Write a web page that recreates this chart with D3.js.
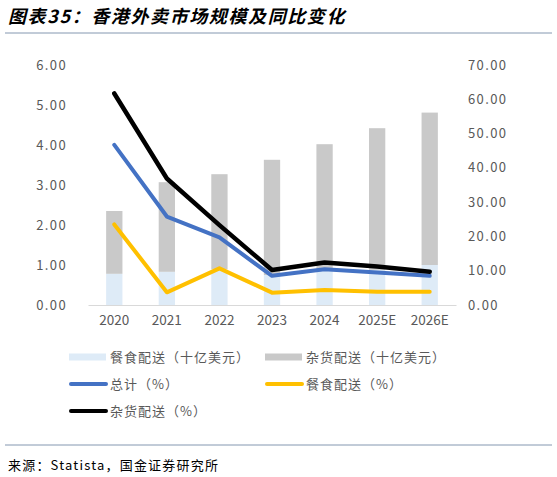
<!DOCTYPE html>
<html>
<head>
<meta charset="utf-8">
<script src="https://cdn.jsdelivr.net/npm/d3@7"></script>
<style>
  body { margin: 0; background: #fff; }
  text { font-family: "Noto Sans CJK SC", "DejaVu Sans", sans-serif; }
</style>
</head>
<body>
<script>
// 数据
var years = ["2020", "2021", "2022", "2023", "2024", "2025E", "2026E"];
var foodSize = [0.78, 0.83, 0.90, 0.75, 0.85, 0.88, 1.00];      // 餐食配送（十亿美元）
var grocerySize = [1.57, 2.24, 2.37, 2.88, 3.17, 3.54, 3.81];   // 杂货配送（十亿美元），堆叠在上
var totalYoy = [46.7, 25.8, 19.7, 8.5, 10.4, 9.5, 8.5];
var foodYoy = [23.5, 3.7, 10.7, 3.6, 4.4, 3.9, 3.9];
var groceryYoy = [61.7, 36.9, 23.3, 10.2, 12.4, 11.2, 9.7];
var leftTicks = [0, 1, 2, 3, 4, 5, 6];
var rightTicks = [0, 10, 20, 30, 40, 50, 60, 70];

var W = 557, H = 477;
var svg = d3.select("body").append("svg").attr("width", W).attr("height", H);

// 标题
svg.append("text").attr("x", 8).attr("y", 23)
  .attr("font-size", 18).attr("font-weight", "bold").attr("font-style", "italic")
  .attr("letter-spacing", 1.6).attr("fill", "#000").text("图表35：香港外卖市场规模及同比变化");
svg.append("line").attr("x1", 5).attr("x2", 552).attr("y1", 33).attr("y2", 33)
  .attr("stroke", "#8497b0").attr("stroke-width", 1);

var x = d3.scaleBand().domain(years).range([88, 456]).paddingInner(0.69).paddingOuter(0.345);
var yL = d3.scaleLinear().domain([0, 6]).range([305, 65]);
var yR = d3.scaleLinear().domain([0, 70]).range([305, 65]);

// 坐标轴文字
svg.selectAll(".lt").data(leftTicks).enter().append("text")
  .attr("x", 67).attr("y", function(d){ return yL(d); }).attr("dy", "0.35em")
  .attr("text-anchor", "end").attr("font-size", 13).attr("letter-spacing", 1.4).attr("fill", "#595959")
  .text(function(d){ return d3.format(".2f")(d); });
svg.selectAll(".rt").data(rightTicks).enter().append("text")
  .attr("x", 468).attr("y", function(d){ return yR(d); }).attr("dy", "0.35em")
  .attr("text-anchor", "start").attr("font-size", 13).attr("letter-spacing", 1.4).attr("fill", "#595959")
  .text(function(d){ return d3.format(".2f")(d); });

// 柱子
svg.selectAll(".food").data(years).enter().append("rect")
  .attr("x", function(d){ return x(d); }).attr("width", x.bandwidth())
  .attr("y", function(d, i){ return yL(foodSize[i]); })
  .attr("height", function(d, i){ return yL(0) - yL(foodSize[i]); })
  .attr("fill", "#deebf7");
svg.selectAll(".groc").data(years).enter().append("rect")
  .attr("x", function(d){ return x(d); }).attr("width", x.bandwidth())
  .attr("y", function(d, i){ return yL(foodSize[i] + grocerySize[i]); })
  .attr("height", function(d, i){ return yL(foodSize[i]) - yL(foodSize[i] + grocerySize[i]); })
  .attr("fill", "#c9c9c9");

// x 轴
var xAxis = svg.append("g").attr("transform", "translate(0,305)")
  .call(d3.axisBottom(x).tickSize(0).tickPadding(10));
xAxis.select(".domain").attr("stroke", "#d9d9d9").attr("stroke-width", 1.2);
xAxis.selectAll("text").attr("font-size", 13.5).attr("fill", "#595959")
  .attr("font-family", "\"Noto Sans CJK SC\", sans-serif");

// 折线
var lineGen = d3.line()
  .x(function(d, i){ return x(years[i]) + x.bandwidth() / 2; })
  .y(function(d){ return yR(d); });
var lines = [
  { data: foodYoy, color: "#ffc000", w: 4 },
  { data: totalYoy, color: "#4472c4", w: 4 },
  { data: groceryYoy, color: "#000000", w: 4.5 }
];
lines.forEach(function(l){
  svg.append("path").datum(l.data).attr("d", lineGen)
    .attr("fill", "none").attr("stroke", l.color).attr("stroke-width", l.w)
    .attr("stroke-linejoin", "round").attr("stroke-linecap", "round");
});

// 图例
var legend = [
  { label: "餐食配送（十亿美元）", type: "rect", color: "#deebf7", x: 69, y: 357 },
  { label: "杂货配送（十亿美元）", type: "rect", color: "#c9c9c9", x: 265, y: 357 },
  { label: "总计（%）", type: "line", color: "#4472c4", x: 69, y: 384 },
  { label: "餐食配送（%）", type: "line", color: "#ffc000", x: 265, y: 384 },
  { label: "杂货配送（%）", type: "line", color: "#000000", x: 69, y: 411 }
];
legend.forEach(function(g){
  if (g.type === "rect") {
    svg.append("rect").attr("x", g.x).attr("y", g.y - 3.5).attr("width", 37).attr("height", 7).attr("fill", g.color);
  } else {
    svg.append("line").attr("x1", g.x + 2).attr("x2", g.x + 37).attr("y1", g.y).attr("y2", g.y)
      .attr("stroke", g.color).attr("stroke-width", 4).attr("stroke-linecap", "round");
  }
  svg.append("text").attr("x", g.x + 41).attr("y", g.y).attr("dy", "0.35em")
    .attr("font-size", 13).attr("letter-spacing", 1).attr("fill", "#595959").text(g.label);
});

// 底部
svg.append("line").attr("x1", 5).attr("x2", 552).attr("y1", 445).attr("y2", 445)
  .attr("stroke", "#8497b0").attr("stroke-width", 1);
svg.append("text").attr("x", 8).attr("y", 465).attr("dy", "0.35em")
  .attr("font-size", 13).attr("letter-spacing", 1.2).attr("fill", "#000").text("来源：Statista，国金证券研究所");
</script>
</body>
</html>
